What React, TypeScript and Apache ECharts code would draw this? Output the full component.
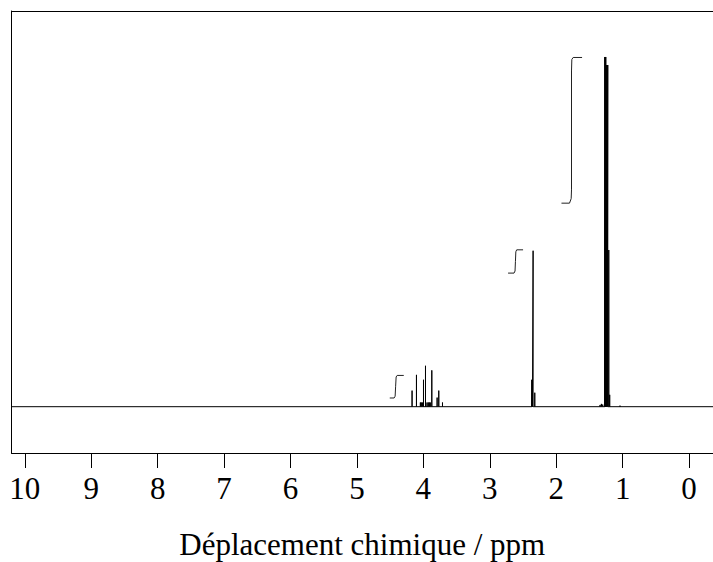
import React, { useEffect, useRef } from "react";
import * as echarts from "echarts";

// Chemical shift axis (ppm), reversed
const xMin = -0.36;
const xMax = 10.2;
const tickValues = [0, 1, 2, 3, 4, 5, 6, 7, 8, 9, 10];
const xTitle = "Déplacement chimique / ppm";

// Intensity scale (tallest line = 100)
const yMin = -13.24;
const yMax = 113.15;

// Spectrum lines (ppm, relative height)
const peakPpm = [
  4.170, 4.104, 4.045, 4.031, 4.015, 3.998, 3.968, 3.945, 3.926, 3.91, 3.896,
  3.873, 3.793, 3.768, 3.712,
  2.368, 2.358, 2.348, 2.323,
  1.340, 1.320, 1.300, 1.269, 1.262, 1.254, 1.246, 1.239, 1.231, 1.224, 1.209,
  1.195, 1.040,
];
const peakHeight = [
  4.6, 9.1, 1.2, 1.2, 1.2, 7.7, 11.7, 1.2, 1.2, 1.2, 1.2,
  10.4, 2.6, 4.6, 1.2,
  7.7, 7.7, 44.6, 4.0,
  0.5, 0.8, 0.6, 100, 100, 100, 97.7, 97.7, 97.7, 97.7, 44.8,
  3.4, 0.3,
];

// Integral curves (ppm, height)
const integral1 = [
  [4.506, 2.49], [4.44, 2.49], [4.425, 3.0], [4.418, 5.7], [4.41, 8.5], [4.395, 8.94], [4.295, 8.94],
];
const integral2 = [
  [2.725, 38.2], [2.635, 38.2], [2.62, 38.8], [2.614, 41.5], [2.608, 44.3], [2.595, 44.86], [2.499, 44.86],
];
const integral3 = [
  [1.921, 58.2], [1.80, 58.2], [1.775, 59.5], [1.770, 62], [1.770, 96], [1.765, 99.3], [1.745, 99.86], [1.611, 99.86],
];

export default function App() {
  const ref = useRef<HTMLDivElement>(null);

  useEffect(() => {
    document.body.style.margin = "0";
    if (!ref.current) return;
    const chart = echarts.init(ref.current, undefined, { renderer: "svg" });

    const order = peakPpm
      .map((p, i) => ({ p, h: peakHeight[i] }))
      .sort((a, b) => b.p - a.p);
    const spectrum: number[][] = [[xMax, 0]];
    order.forEach(({ p, h }) => {
      spectrum.push([p, 0], [p, h], [p, 0]);
    });
    spectrum.push([xMin, 0]);

    const font = "Liberation Serif";
    const lineStyle = { color: "#000", width: 1 };
    const intStyle = { color: "#222", width: 1 };

    chart.setOption({
      animation: false,
      grid: { left: 11.5, right: 0, top: 11, bottom: 109, outerBoundsMode: "none", containLabel: false },
      xAxis: [
        {
          type: "value",
          inverse: true,
          min: xMin,
          max: xMax,
          position: "bottom",
          axisLine: { show: true, onZero: false, lineStyle },
          axisTick: { show: true, length: 15, lineStyle, customValues: tickValues },
          axisLabel: {
            show: true,
            customValues: tickValues,
            color: "#000",
            fontFamily: font,
            fontSize: 31,
            margin: 20,
          },
          splitLine: { show: false },
          name: xTitle,
          nameLocation: "middle",
          nameGap: 76,
          nameTextStyle: { color: "#000", fontFamily: font, fontSize: 31 },
        },
        {
          type: "value",
          inverse: true,
          min: xMin,
          max: xMax,
          position: "top",
          axisLine: { show: true, onZero: false, lineStyle },
          axisTick: { show: false },
          axisLabel: { show: false },
          splitLine: { show: false },
        },
      ],
      yAxis: {
        type: "value",
        min: yMin,
        max: yMax,
        position: "left",
        axisLine: { show: true, onZero: false, lineStyle },
        axisTick: { show: false },
        axisLabel: { show: false },
        splitLine: { show: false },
      },
      series: [
        {
          type: "line",
          data: spectrum,
          showSymbol: false,
          lineStyle,
          silent: true,
        },
        { type: "line", data: integral1, showSymbol: false, lineStyle: intStyle, silent: true },
        { type: "line", data: integral2, showSymbol: false, lineStyle: intStyle, silent: true },
        { type: "line", data: integral3, showSymbol: false, lineStyle: intStyle, silent: true },
      ],
    });

    return () => chart.dispose();
  }, []);

  return <div ref={ref} style={{ width: 713, height: 562 }} />;
}
